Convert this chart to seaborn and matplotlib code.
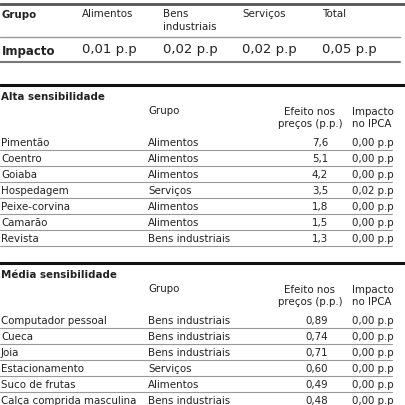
import matplotlib.pyplot as plt
import seaborn as sns

sns.set_theme(style="white")
plt.rcParams['font.family'] = ['Liberation Sans Narrow', 'DejaVu Sans']

# data
top_groups = ["Alimentos", "Bens\nindustriais", "Serviços", "Total"]
top_impact = ["0,01 p.p", "0,02 p.p", "0,02 p.p", "0,05 p.p"]

alta_items = ["Pimentão", "Coentro", "Goiaba", "Hospedagem", "Peixe-corvina", "Camarão", "Revista"]
alta_groups = ["Alimentos", "Alimentos", "Alimentos", "Serviços", "Alimentos", "Alimentos", "Bens industriais"]
alta_effect = ["7,6", "5,1", "4,2", "3,5", "1,8", "1,5", "1,3"]
alta_impact = ["0,00 p.p", "0,00 p.p", "0,00 p.p", "0,02 p.p", "0,00 p.p", "0,00 p.p", "0,00 p.p"]

media_items = ["Computador pessoal", "Cueca", "Joia", "Estacionamento", "Suco de frutas", "Calça comprida masculina"]
media_groups = ["Bens industriais", "Bens industriais", "Bens industriais", "Serviços", "Alimentos", "Bens industriais"]
media_effect = ["0,89", "0,74", "0,71", "0,60", "0,49", "0,48"]
media_impact = ["0,00 p.p", "0,00 p.p", "0,00 p.p", "0,00 p.p", "0,00 p.p", "0,00 p.p"]

fig = plt.figure(figsize=(4.06, 4.06), dpi=100)
ax = fig.add_axes([0, 0, 1, 1])
ax.set_xlim(0, 406)
ax.set_ylim(406, 0)
ax.axis("off")

fs = 7.4
dark = "#222222"

# summary table
ax.axhline(5, color="#555555", lw=2)
ax.text(2, 15, "Grupo", fontsize=fs, weight="bold", va="center", color=dark)
xs = [82, 163, 242, 322]
for x, g, v in zip(xs, top_groups, top_impact):
    ax.text(x, 9, g, fontsize=fs, va="top", color=dark, linespacing=1.4)
    ax.text(x, 50, v, fontsize=9.5, va="center", color=dark)
ax.text(2, 51, "Impacto", fontsize=8.5, weight="bold", va="center", color=dark)
ax.plot([0, 400], [38, 38], color="#999999", lw=1)
ax.plot([0, 400], [63, 63], color="#777777", lw=1.5)


def section(y0, title, items, groups, effect, impact):
    ax.axhline(y0, color="#111111", lw=2.2)
    ax.text(1, y0 + 11, title, fontsize=fs, weight="bold", va="center", color=dark)
    ax.text(148, y0 + 25, "Grupo", fontsize=fs, va="center", color=dark)
    ax.text(310, y0 + 32, "Efeito nos\npreços (p.p.)", fontsize=fs, va="center",
            ha="center", color=dark, linespacing=1.3)
    ax.text(352, y0 + 32, "Impacto\nno IPCA", fontsize=fs, va="center", color=dark,
            linespacing=1.3)
    y = y0 + 57
    for i, (n, g, e, im) in enumerate(zip(items, groups, effect, impact)):
        ax.text(1, y, n, fontsize=fs, va="center", color=dark)
        ax.text(148, y, g, fontsize=fs, va="center", color=dark)
        ax.text(328, y, e, fontsize=fs, va="center", ha="right", color=dark)
        ax.text(352, y, im, fontsize=fs, va="center", color=dark)
        ax.plot([0, 392], [y + 8, y + 8], color="#999999", lw=0.8)
        y += 16


section(86, "Alta sensibilidade", alta_items, alta_groups, alta_effect, alta_impact)
section(264, "Média sensibilidade", media_items, media_groups, media_effect, media_impact)

fig.savefig("out.png", dpi=100, facecolor="white")
